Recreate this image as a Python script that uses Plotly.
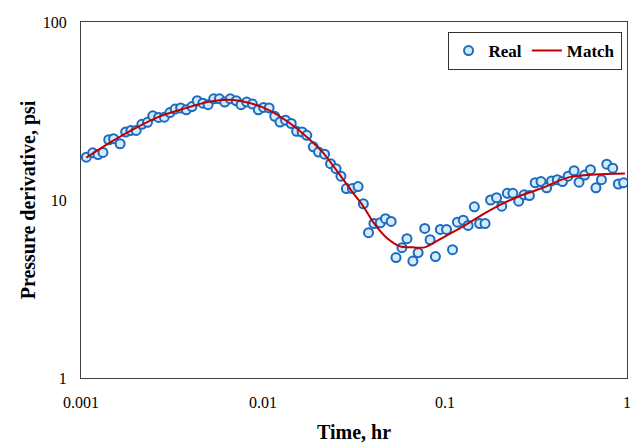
import plotly.graph_objects as go

real_time = [0.00107, 0.00116, 0.00124, 0.00132, 0.00142, 0.00151, 0.00164, 0.00176, 0.00188, 0.00201,
             0.00216, 0.00232, 0.00248, 0.00267, 0.00287, 0.00308, 0.00329, 0.00353, 0.00379, 0.00407,
             0.00435, 0.00467, 0.00499, 0.00536, 0.00576, 0.00616, 0.00661, 0.00713, 0.00758, 0.00814,
             0.00875, 0.00943, 0.01008, 0.0108, 0.0116, 0.0124, 0.0133, 0.0143, 0.0153, 0.0164,
             0.0174, 0.0189, 0.0202, 0.0218, 0.0235, 0.0252, 0.0268, 0.0287, 0.0310, 0.0333,
             0.0356, 0.0380, 0.0407, 0.0441, 0.0471, 0.0506, 0.0538, 0.0580, 0.0618, 0.0666,
             0.0712, 0.0774, 0.0828, 0.0886, 0.0943, 0.102, 0.110, 0.117, 0.126, 0.134,
             0.145, 0.155, 0.166, 0.178, 0.192, 0.205, 0.220, 0.236, 0.254, 0.272,
             0.291, 0.313, 0.337, 0.362, 0.385, 0.414, 0.442, 0.475, 0.512, 0.545,
             0.585, 0.630, 0.675, 0.724, 0.774, 0.835, 0.896, 0.958]
real_deriv = [17.4, 18.4, 18.0, 18.5, 21.8, 22.1, 20.7, 24.1, 24.6, 24.6,
              26.6, 27.3, 29.7, 29.1, 29.2, 31.0, 32.4, 32.9, 32.1, 33.5,
              36.1, 35.0, 34.3, 37.0, 37.0, 35.5, 37.0, 36.1, 34.3, 35.5,
              34.6, 32.1, 33.1, 32.9, 29.5, 27.4, 28.1, 26.9, 24.3, 24.1,
              23.1, 19.9, 18.6, 18.1, 16.0, 15.0, 13.6, 11.6, 11.6, 11.9,
              9.52, 6.55, 7.38, 7.45, 7.85, 7.58, 4.75, 5.40, 6.06, 4.54,
              5.06, 6.92, 5.98, 4.81, 6.83, 6.83, 5.26, 7.51, 7.70, 7.20,
              9.16, 7.38, 7.38, 10.0, 10.3, 9.23, 10.9, 10.9, 9.85, 10.7,
              10.6, 12.5, 12.7, 11.7, 12.8, 13.0, 12.7, 13.6, 14.6, 12.6,
              13.8, 14.8, 11.7, 13.0, 15.9, 15.1, 12.3, 12.5]

match_time = [0.00107, 0.00144, 0.00197, 0.00269, 0.00368, 0.00504, 0.00647, 0.00832, 0.0107, 0.0137,
              0.0176, 0.0213, 0.0257, 0.0314, 0.0356, 0.0404, 0.0481, 0.0566, 0.0658, 0.0774,
              0.0958, 0.123, 0.158, 0.203, 0.261, 0.336, 0.477, 0.669, 0.974]
match_deriv = [17.3, 21.0, 25.2, 29.4, 32.6, 35.6, 36.6, 35.2, 32.1, 27.5,
               22.4, 18.5, 14.4, 10.9, 9.20, 7.48, 6.09, 5.49, 5.42, 5.42,
               6.09, 7.01, 8.19, 9.44, 10.6, 11.6, 13.4, 13.9, 14.1]

x_ticks = [0.001, 0.01, 0.1, 1]
x_tick_labels = ["0.001", "0.01", "0.1", "1"]
y_ticks = [1, 10, 100]
y_tick_labels = ["1", "10", "100"]

serif = "Liberation Serif, Times New Roman, serif"

fig = go.Figure()
fig.add_trace(go.Scatter(
    x=real_time, y=real_deriv, mode="markers", name="Real",
    marker=dict(symbol="circle", size=9, color="#d6ebfa",
                line=dict(color="#1b6cc0", width=2)),
))
fig.add_trace(go.Scatter(
    x=match_time, y=match_deriv, mode="lines", name="Match",
    line=dict(color="#c00000", width=2, shape="spline", smoothing=0.8),
))

fig.update_layout(
    width=636, height=444,
    margin=dict(l=81, r=5, t=22, b=65),
    paper_bgcolor="white", plot_bgcolor="white",
    font=dict(family=serif, color="black", size=16),
    showlegend=True,
    legend=dict(
        orientation="h", x=0.99, xanchor="right", y=0.972, yanchor="top",
        bordercolor="#333333", borderwidth=1, bgcolor="white",
        font=dict(family=serif, size=17, color="black", weight="bold"),
        itemwidth=30, tracegroupgap=0,
    ),
    xaxis=dict(
        type="log", range=[-3, 0], tickvals=x_ticks, ticktext=x_tick_labels,
        showgrid=False, zeroline=False, showline=True, mirror=True,
        linecolor="#404040", linewidth=1, ticks="", ticklabelstandoff=10,
        tickfont=dict(family=serif, size=16, color="black"),
        title=dict(text="<b>Time, hr</b>", font=dict(family=serif, size=20, color="black"), standoff=14),
    ),
    yaxis=dict(
        type="log", range=[0, 2], tickvals=y_ticks, ticktext=y_tick_labels,
        showgrid=False, zeroline=False, showline=True, mirror=True,
        linecolor="#404040", linewidth=1, ticks="", ticklabelstandoff=10,
        tickfont=dict(family=serif, size=16, color="black"),
        title=dict(text="<b>Pressure derivative, psi</b>", font=dict(family=serif, size=20, color="black"), standoff=1),
    ),
)

fig.write_html(
    "out.html",
    config={"displayModeBar": False},
    post_script="document.body.style.margin='0';document.body.style.overflow='hidden';",
)
